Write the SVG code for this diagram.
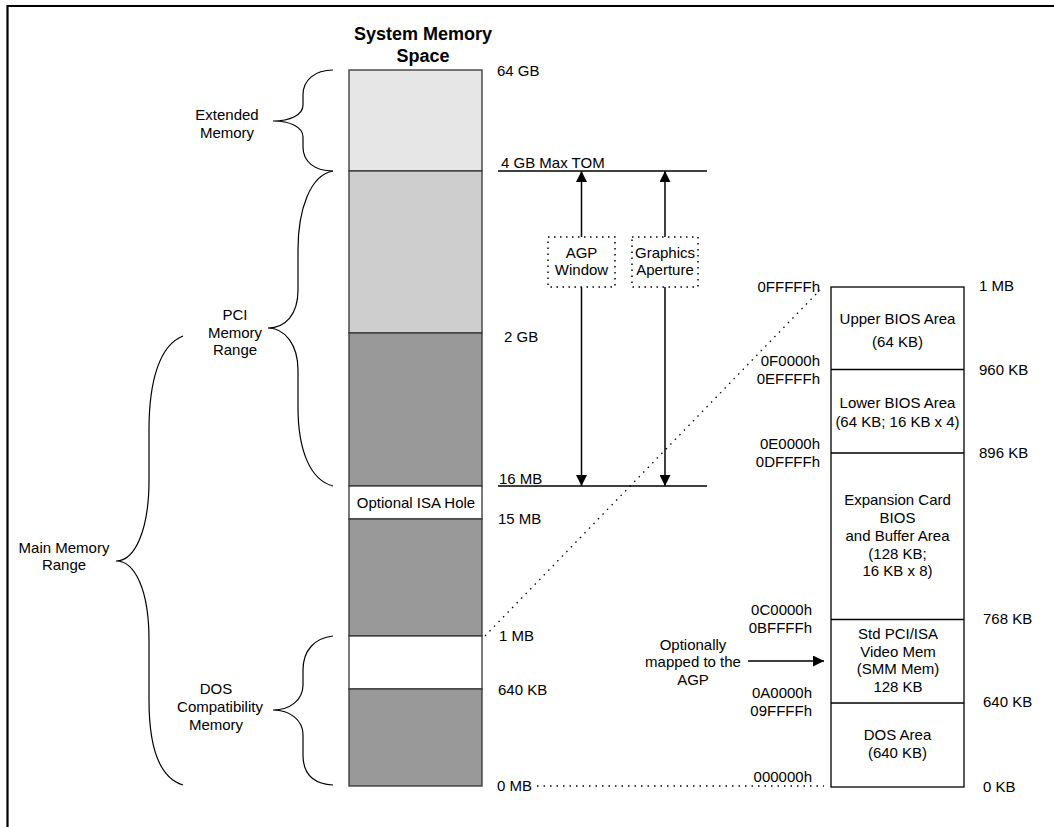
<svg xmlns="http://www.w3.org/2000/svg" width="1054" height="827" viewBox="0 0 1054 827">
<style>
text{font-family:"Liberation Sans",Arial,sans-serif;font-size:15px;fill:#000}
.c{text-anchor:middle}
.r{text-anchor:end}
.t{font-weight:bold;font-size:18px}
.blk{stroke:#333;stroke-width:1.3}
.brace{fill:none;stroke:#000;stroke-width:1.2}
.ln{stroke:#000;stroke-width:1.5;fill:none}
.dot{stroke:#000;stroke-width:1.3;stroke-dasharray:1.5 5;fill:none}
.dbox{fill:#fff;stroke:#000;stroke-width:1.5;stroke-dasharray:1.5 4.5}
</style>
<defs>
<marker id="ah" viewBox="0 0 10 10" refX="10" refY="5" markerWidth="11" markerHeight="11" markerUnits="userSpaceOnUse" orient="auto">
<path d="M0,0 L10,5 L0,10 z" fill="#000"/>
</marker>
</defs>
<rect width="1054" height="827" fill="#fff"/>
<path d="M7.5,827 L7.5,6 L1054,6" fill="none" stroke="#000" stroke-width="2.2"/>

<g id="title">
<text class="c t" x="423" y="40">System Memory</text>
<text class="c t" x="423" y="62">Space</text>
</g>

<g id="system-memory-column">
<rect class="blk" x="349" y="70" width="133" height="101" fill="#e6e6e6"/>
<rect class="blk" x="349" y="171" width="133" height="162" fill="#cecece"/>
<rect class="blk" x="349" y="333" width="133" height="153" fill="#999"/>
<rect class="blk" x="349" y="486" width="133" height="33" fill="#fff"/>
<rect class="blk" x="349" y="519" width="133" height="117" fill="#999"/>
<rect class="blk" x="349" y="636" width="133" height="53" fill="#fff"/>
<rect class="blk" x="349" y="689" width="133" height="97" fill="#999"/>
<text class="c" x="416" y="508">Optional ISA Hole</text>
</g>

<g id="address-labels-left">
<text x="497" y="76">64 GB</text>
<text x="501" y="168">4 GB Max TOM</text>
<text x="504" y="342">2 GB</text>
<text x="499" y="484">16 MB</text>
<text x="498" y="524">15 MB</text>
<text x="499" y="641">1 MB</text>
<text x="498" y="695">640 KB</text>
<text x="497" y="791">0 MB</text>
</g>

<g id="extended-memory">
<path class="brace" d="M333,70 C315,70 303,80 303,95 L303,105 C303,115 290,121 273,121 C290,121 303,127 303,137 L303,147 C303,162 315,171 333,171"/>
<text class="c" x="227" y="120">Extended</text>
<text class="c" x="227" y="138">Memory</text>
</g>

<g id="pci-memory-range">
<path class="brace" d="M333,171 C310,175 298,210 298,250 L298,290 C298,315 285,328 268,328 C285,328 298,345 298,370 L298,407 C298,450 310,480 333,486"/>
<text class="c" x="235" y="320">PCI</text>
<text class="c" x="235" y="338">Memory</text>
<text class="c" x="235" y="355">Range</text>
</g>

<g id="main-memory-range">
<path class="brace" d="M183,336 C160,345 149,380 149,430 L149,480 C149,530 135,561 116,561 C135,561 149,590 149,640 L149,700 C149,750 160,778 183,785"/>
<text class="c" x="64" y="553">Main Memory</text>
<text class="c" x="64" y="570">Range</text>
</g>

<g id="dos-compatibility-memory">
<path class="brace" d="M333,636 C315,638 303,650 303,670 L303,685 C303,700 290,710 273,710 C290,710 303,720 303,735 L303,755 C303,775 315,784 333,785"/>
<text class="c" x="216" y="694">DOS</text>
<text class="c" x="220" y="712">Compatibility</text>
<text class="c" x="216" y="730">Memory</text>
</g>

<g id="agp-window">
<rect class="dbox" x="548" y="237" width="67" height="50"/>
<text class="c" x="581.5" y="258">AGP</text>
<text class="c" x="581.5" y="275">Window</text>
</g>

<g id="graphics-aperture">
<rect class="dbox" x="632" y="237" width="66" height="50"/>
<text class="c" x="665" y="258">Graphics</text>
<text class="c" x="665" y="275">Aperture</text>
</g>

<g id="connectors">
<line class="ln" x1="498" y1="171" x2="707" y2="171"/>
<line class="ln" x1="498" y1="486" x2="707" y2="486"/>
<line class="ln" x1="581.5" y1="237" x2="581.5" y2="171" marker-end="url(#ah)"/>
<line class="ln" x1="581.5" y1="287" x2="581.5" y2="486" marker-end="url(#ah)"/>
<line class="ln" x1="665" y1="237" x2="665" y2="171" marker-end="url(#ah)"/>
<line class="ln" x1="665" y1="287" x2="665" y2="486" marker-end="url(#ah)"/>
<line class="dot" x1="485" y1="636" x2="820" y2="290"/>
<line class="dot" x1="537" y1="786" x2="824" y2="786"/>
<line class="ln" x1="748" y1="661" x2="824" y2="661" marker-end="url(#ah)"/>
</g>

<g id="optionally-mapped">
<text class="c" x="693" y="650">Optionally</text>
<text class="c" x="693" y="667">mapped to the</text>
<text class="c" x="693" y="685">AGP</text>
</g>

<g id="dos-area-map">
<rect x="831" y="287" width="133" height="500" fill="#fff" stroke="#000" stroke-width="1.3"/>
<line x1="831" y1="369.5" x2="964" y2="369.5" stroke="#000" stroke-width="1.3"/>
<line x1="831" y1="453" x2="964" y2="453" stroke="#000" stroke-width="1.3"/>
<line x1="831" y1="619.5" x2="964" y2="619.5" stroke="#000" stroke-width="1.3"/>
<line x1="831" y1="703" x2="964" y2="703" stroke="#000" stroke-width="1.3"/>
</g>

<g id="upper-bios-area">
<text class="c" x="897.5" y="324">Upper BIOS Area</text>
<text class="c" x="897.5" y="347">(64 KB)</text>
</g>
<g id="lower-bios-area">
<text class="c" x="897.5" y="408">Lower BIOS Area</text>
<text class="c" x="897.5" y="427">(64 KB; 16 KB x 4)</text>
</g>
<g id="expansion-card-bios">
<text class="c" x="897.5" y="505">Expansion Card</text>
<text class="c" x="897.5" y="523">BIOS</text>
<text class="c" x="897.5" y="541">and Buffer Area</text>
<text class="c" x="897.5" y="559">(128 KB;</text>
<text class="c" x="897.5" y="576">16 KB x 8)</text>
</g>
<g id="std-pci-isa-video-mem">
<text class="c" x="898" y="639">Std PCI/ISA</text>
<text class="c" x="898" y="657">Video Mem</text>
<text class="c" x="898" y="674">(SMM Mem)</text>
<text class="c" x="898" y="692">128 KB</text>
</g>
<g id="dos-area">
<text class="c" x="897.5" y="740">DOS Area</text>
<text class="c" x="897.5" y="758">(640 KB)</text>
</g>

<g id="hex-labels">
<text class="r" x="820" y="292">0FFFFFh</text>
<text class="r" x="820" y="366">0F0000h</text>
<text class="r" x="820" y="384">0EFFFFh</text>
<text class="r" x="820" y="449">0E0000h</text>
<text class="r" x="820" y="467">0DFFFFh</text>
<text class="r" x="812" y="615">0C0000h</text>
<text class="r" x="812" y="633">0BFFFFh</text>
<text class="r" x="812" y="698">0A0000h</text>
<text class="r" x="812" y="716">09FFFFh</text>
<text class="r" x="812" y="782">000000h</text>
</g>

<g id="kb-labels">
<text x="979" y="291">1 MB</text>
<text x="979" y="375">960 KB</text>
<text x="979" y="458">896 KB</text>
<text x="983" y="624">768 KB</text>
<text x="983" y="707">640 KB</text>
<text x="983" y="792">0 KB</text>
</g>
</svg>
